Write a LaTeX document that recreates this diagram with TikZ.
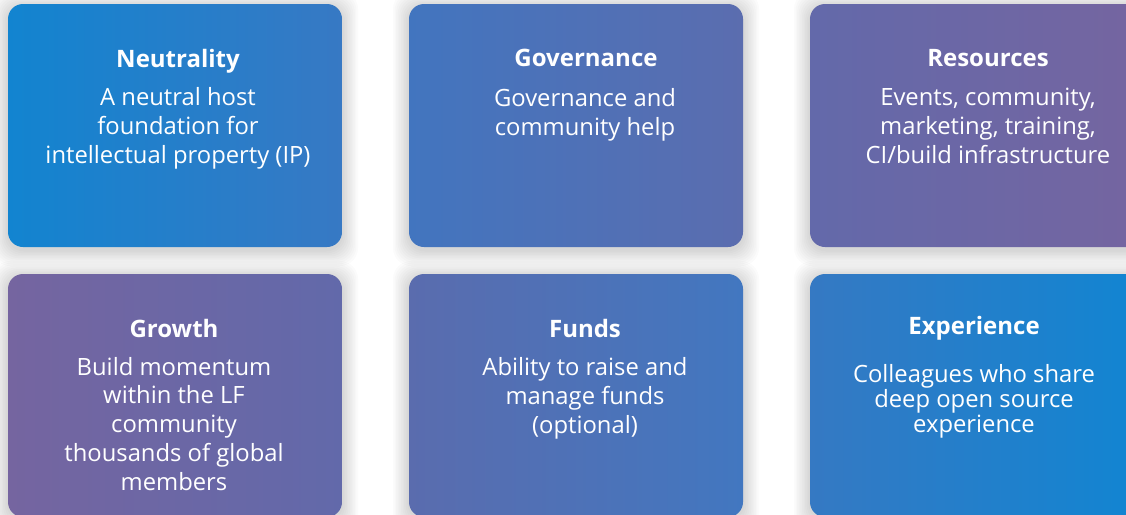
\documentclass[tikz,border=0pt]{standalone}
\usepackage{fontspec}
\setmainfont{Open Sans}

\definecolor{b00l}{HTML}{1284D0}
\definecolor{b00r}{HTML}{3779C4}
\definecolor{b01l}{HTML}{4275BF}
\definecolor{b01r}{HTML}{5B6DAF}
\definecolor{b02l}{HTML}{6369AA}
\definecolor{b02r}{HTML}{7565A0}
\definecolor{b10l}{HTML}{7565A0}
\definecolor{b10r}{HTML}{6269AA}
\definecolor{b11l}{HTML}{5A6CAE}
\definecolor{b11r}{HTML}{4277C0}
\definecolor{b12l}{HTML}{3579C3}
\definecolor{b12r}{HTML}{1185D2}

\newcommand\cardtitle{\fontsize{24}{28}\selectfont\bfseries}
\newcommand\cardbody{\fontsize{23.8}{28.7}\selectfont}

\begin{document}
\begin{tikzpicture}[x=1pt, y=-1pt]
  \useasboundingbox (0,0) rectangle (1126,514);
  \clip (0,0) rectangle (1126,514);
  \fill[white] (0,0) rectangle (1126,514);

  % Shadows
  \foreach \cx/\cy in {175/125.5, 576/125.5, 977/125.5, 175/395.5, 576/395.5, 977/395.5} {
    \foreach \k in {1,...,10}
      \fill[black, opacity=0.014, rounded corners=18pt]
        (\cx-167-\k*1.6, \cy-121.5-\k*1.6+3) rectangle (\cx+167+\k*1.6, \cy+121.5+\k*1.6+3);
  }

  % Cards
  \begin{scope}[every node/.style={shape=rectangle, rounded corners=15pt, minimum width=334pt, minimum height=243pt, inner sep=0pt}]
    \node[left color=b00l, right color=b00r] (b00) at (175,125.5) {};
    \node[left color=b01l, right color=b01r] (b01) at (576,125.5) {};
    \node[left color=b02l, right color=b02r] (b02) at (977,125.5) {};

    \node[left color=b10l, right color=b10r] (b10) at (175,395.5) {};
    \node[left color=b11l, right color=b11r] (b11) at (576,395.5) {};
    \node[left color=b12l, right color=b12r] (b12) at (977,395.5) {};
  \end{scope}

  % Texts (base = last line)
  \begin{scope}[every node/.style={text=white, align=center, anchor=base, inner sep=0pt}]
    % Row 1
    \node[font=\cardtitle] (t00) at (178,67) {Neutrality};
    \node[font=\cardbody] (d00) at (178,163) {A neutral host\\foundation for\\intellectual property (IP)};

    \node[font=\cardtitle] (t01) at (586,66) {Governance};
    \node[font=\cardbody] (d01) at (585,135) {Governance and\\community help};

    \node[font=\cardtitle] (t02) at (988,66) {Resources};
    \node[font=\cardbody] (d02) at (988,163) {Events, community,\\marketing, training,\\CI/build infrastructure};

    % Row 2
    \node[font=\cardtitle] (t10) at (174,337) {Growth};
    \node[font=\cardbody] (d10) at (174,490) {Build momentum\\within the LF\\community\\thousands of global\\members};

    \node[font=\cardtitle] (t11) at (585,337) {Funds};
    \node[font=\cardbody] (d11) at (585,433) {Ability to raise and\\manage funds\\(optional)};

    \node[font=\cardtitle] (t12) at (974,334) {Experience};
    \node[font=\fontsize{23.8}{25}\selectfont] (d12) at (974,432) {Colleagues who share\\deep open source\\experience};
  \end{scope}
\end{tikzpicture}
\end{document}
